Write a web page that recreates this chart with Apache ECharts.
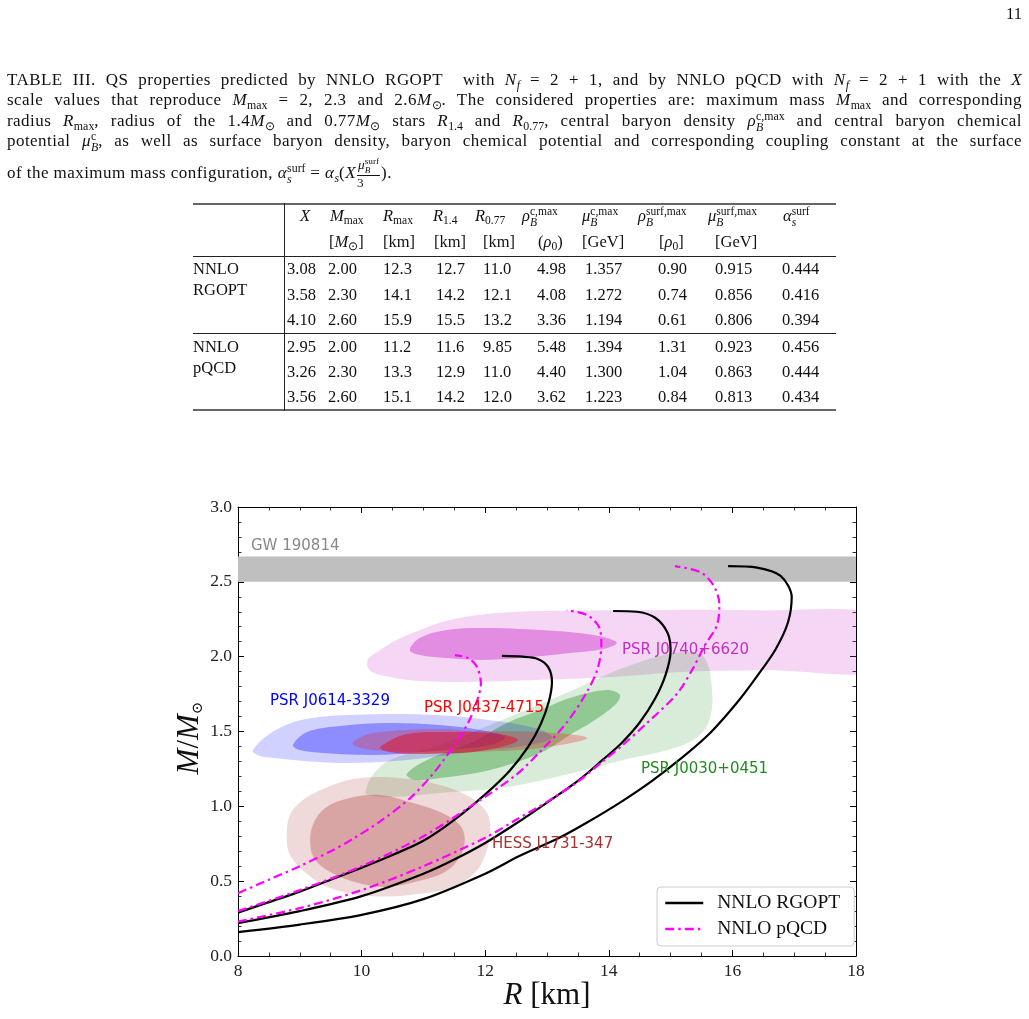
<!DOCTYPE html>
<html lang="en">
<head>
<meta charset="UTF-8">
<title>QS properties</title>
<script src="https://cdn.jsdelivr.net/npm/echarts@6/dist/echarts.min.js"></script>
<style>
  body { margin: 0; background: #fff; }
  #page { position: relative; width: 1029px; height: 1019px; overflow: hidden; font-family: "Liberation Serif", serif; color: #111; }
  #chart { position: absolute; left: 0; top: 0; width: 1029px; height: 1019px; z-index: 0; }
  .txt { position: absolute; z-index: 1; font-size: 16.5px; line-height: 20px; white-space: nowrap; }
  .cap { position: absolute; z-index: 1; left: 7px; width: 1015px; font-size: 17px; letter-spacing: 0.45px; line-height: 20px; text-align: justify; text-align-last: justify; }
  .cap.last { text-align-last: left; }
  sub, sup { font-size: 0.7em; line-height: 0; letter-spacing: 0; }
  sub { vertical-align: -0.3em; }
  .ss { display: inline-block; vertical-align: -0.42em; font-size: 0.7em; line-height: 0.95em; text-align: left; letter-spacing: 0; }
  .ss b { display: block; font-weight: normal; }
  .frac { display: inline-block; vertical-align: -0.62em; font-size: 0.78em; line-height: 1.05em; text-align: center; letter-spacing: 0; margin: 0 1px; }
  .frac b { display: block; font-weight: normal; }
  .frac b.num { border-bottom: 1px solid #111; padding: 0 1px; }
  .rule { position: absolute; z-index: 1; background: #222; }
</style>
</head>
<body>
<div id="page">
  <div id="chart"></div>

  <div class="txt" style="left:1006px;top:4px;">11</div>

  <div class="cap" style="top:70px;">TABLE III. QS properties predicted by NNLO RGOPT &nbsp;with <i>N<sub>f</sub></i> = 2 + 1, and by NNLO pQCD with <i>N<sub>f</sub></i> = 2 + 1 with the <i>X</i></div>
  <div class="cap" style="top:90px;">scale values that reproduce <i>M</i><sub>max</sub> = 2, 2.3 and 2.6<i>M</i><sub>⊙</sub>. The considered properties are: maximum mass <i>M</i><sub>max</sub> and corresponding</div>
  <div class="cap" style="top:111px;">radius <i>R</i><sub>max</sub>, radius of the 1.4<i>M</i><sub>⊙</sub> and 0.77<i>M</i><sub>⊙</sub> stars <i>R</i><sub>1.4</sub> and <i>R</i><sub>0.77</sub>, central baryon density <i>ρ</i><span class="ss"><b>c,max</b><b><i>B</i></b></span> and central baryon chemical</div>
  <div class="cap" style="top:131px;">potential <i>μ</i><span class="ss"><b>c</b><b><i>B</i></b></span>, as well as surface baryon density, baryon chemical potential and corresponding coupling constant at the surface</div>
  <div class="cap last" style="top:157px;">of the maximum mass configuration, <i>α</i><span class="ss"><b>surf</b><b><i>s</i></b></span> = <i>α<sub>s</sub></i>(<i>X</i><span class="frac"><b class="num"><i>μ</i><span class="ss"><b>surf</b><b><i>B</i></b></span></b><b>3</b></span>).</div>

  <div id="table"></div>
</div>

<script>
// ---- table data ----
var groupNames = [['NNLO', 'RGOPT'], ['NNLO', 'pQCD']];
var rgoptRows = [
  ['3.08', '2.00', '12.3', '12.7', '11.0', '4.98', '1.357', '0.90', '0.915', '0.444'],
  ['3.58', '2.30', '14.1', '14.2', '12.1', '4.08', '1.272', '0.74', '0.856', '0.416'],
  ['4.10', '2.60', '15.9', '15.5', '13.2', '3.36', '1.194', '0.61', '0.806', '0.394']
];
var pqcdRows = [
  ['2.95', '2.00', '11.2', '11.6', '9.85', '5.48', '1.394', '1.31', '0.923', '0.456'],
  ['3.26', '2.30', '13.3', '12.9', '11.0', '4.40', '1.300', '1.04', '0.863', '0.444'],
  ['3.56', '2.60', '15.1', '14.2', '12.0', '3.62', '1.223', '0.84', '0.813', '0.434']
];
var headNames = [
  '<i>X</i>', '<i>M</i><sub>max</sub>', '<i>R</i><sub>max</sub>', '<i>R</i><sub>1.4</sub>', '<i>R</i><sub>0.77</sub>',
  '<i>ρ</i><span class="ss"><b>c,max</b><b><i>B</i></b></span>',
  '<i>μ</i><span class="ss"><b>c,max</b><b><i>B</i></b></span>',
  '<i>ρ</i><span class="ss"><b>surf,max</b><b><i>B</i></b></span>',
  '<i>μ</i><span class="ss"><b>surf,max</b><b><i>B</i></b></span>',
  '<i>α</i><span class="ss"><b>surf</b><b><i>s</i></b></span>'
];
var headUnits = ['', '[<i>M</i><sub>⊙</sub>]', '[km]', '[km]', '[km]', '(<i>ρ</i><sub>0</sub>)', '[GeV]', '[<i>ρ</i><sub>0</sub>]', '[GeV]', ''];

// ---- figure data ----
var gwBand = [2.50, 2.67];
var xTicks = [8, 10, 12, 14, 16, 18];
var yTicks = [0.0, 0.5, 1.0, 1.5, 2.0, 2.5, 3.0];

var rgopt20 = [[8.0,0.29],[8.5,0.36],[9.0,0.43],[9.5,0.51],[10.0,0.59],[10.5,0.675],[11.0,0.77],[11.5,0.91],[12.0,1.08],[12.4,1.24],[12.7,1.40],[12.9,1.55],[13.03,1.70],[13.08,1.83],[13.02,1.93],[12.85,1.985],[12.6,2.0],[12.27,2.005]];
var rgopt23 = [[8.0,0.22],[9.0,0.30],[10.0,0.40],[11.0,0.55],[11.5,0.645],[12.0,0.755],[12.5,0.885],[13.0,1.025],[13.5,1.17],[13.9,1.31],[14.2,1.42],[14.5,1.56],[14.75,1.72],[14.92,1.88],[15.0,2.04],[14.95,2.16],[14.75,2.26],[14.45,2.30],[14.07,2.305]];
var rgopt26 = [[8.0,0.16],[9.0,0.21],[10.0,0.275],[11.0,0.38],[12.0,0.55],[12.56,0.67],[13.2,0.79],[13.64,0.89],[14.2,1.03],[14.7,1.17],[15.2,1.33],[15.64,1.49],[16.07,1.69],[16.4,1.87],[16.7,2.05],[16.9,2.23],[16.96,2.40],[16.78,2.54],[16.4,2.595],[15.93,2.605]];
var pqcd20 = [[8.0,0.42],[8.5,0.51],[9.0,0.60],[9.5,0.70],[9.85,0.78],[10.3,0.90],[10.8,1.06],[11.2,1.24],[11.55,1.44],[11.75,1.58],[11.88,1.72],[11.93,1.82],[11.87,1.93],[11.73,1.99],[11.51,2.01]];
var pqcd23 = [[8.0,0.30],[9.0,0.44],[10.0,0.60],[11.0,0.80],[11.8,1.01],[12.5,1.21],[12.9,1.37],[13.32,1.56],[13.64,1.76],[13.82,1.92],[13.88,2.08],[13.84,2.20],[13.64,2.28],[13.32,2.31]];
var pqcd26 = [[8.0,0.23],[9.0,0.32],[10.0,0.44],[11.0,0.60],[12.0,0.79],[12.5,0.91],[13.0,1.03],[13.5,1.165],[13.9,1.30],[14.2,1.40],[14.6,1.55],[15.1,1.75],[15.36,1.92],[15.56,2.08],[15.75,2.21],[15.79,2.35],[15.69,2.48],[15.48,2.565],[15.07,2.605]];

var j0740Outer = [[10.10,1.98],[10.29,2.04],[10.51,2.10],[10.83,2.16],[11.38,2.24],[11.92,2.28],[12.56,2.30],[14.18,2.31],[16.33,2.31],[18.6,2.26],[18.6,1.92],[16.45,1.91],[15.27,1.90],[13.86,1.86],[12.56,1.84],[11.62,1.83],[10.83,1.84],[10.39,1.87],[10.13,1.91]];
var j0740Inner = [[10.78,2.044],[10.94,2.125],[11.38,2.178],[11.92,2.191],[12.56,2.185],[13.37,2.165],[13.91,2.131],[14.13,2.091],[13.91,2.051],[13.37,2.024],[12.56,1.991],[11.92,1.978],[11.38,1.991],[10.94,2.011]];
var j0030Outer = [[10.06,1.096],[10.17,1.203],[10.46,1.310],[11.27,1.410],[12.35,1.590],[13.42,1.777],[14.23,1.924],[15.04,2.024],[15.48,2.018],[15.62,1.924],[15.67,1.777],[15.67,1.657],[15.57,1.523],[15.31,1.430],[14.83,1.363],[14.23,1.310],[13.42,1.223],[12.35,1.129],[11.27,1.089],[10.46,1.062],[10.10,1.076]];
var j0030Inner = [[10.73,1.216],[11.06,1.310],[11.80,1.430],[12.35,1.557],[12.89,1.644],[13.42,1.730],[13.97,1.777],[14.18,1.744],[14.10,1.677],[13.70,1.557],[13.42,1.490],[12.89,1.356],[12.08,1.243],[11.27,1.189],[10.86,1.176]];
var hessOuter = [[8.79,0.788],[8.84,0.942],[9.05,1.042],[9.49,1.136],[9.97,1.189],[10.62,1.189],[11.27,1.143],[11.75,1.062],[12.03,0.955],[12.08,0.822],[12.00,0.675],[11.83,0.555],[11.43,0.454],[10.78,0.408],[10.14,0.401],[9.49,0.454],[9.08,0.561],[8.84,0.675]];
var hessInner = [[9.17,0.742],[9.21,0.875],[9.41,0.989],[9.81,1.056],[10.30,1.076],[10.78,1.029],[11.27,0.962],[11.59,0.875],[11.67,0.775],[11.59,0.661],[11.35,0.561],[10.86,0.494],[10.38,0.461],[9.89,0.494],[9.49,0.561],[9.25,0.641]];
var j0614Outer = [[8.24,1.376],[8.57,1.50],[9.12,1.585],[10.18,1.615],[11.27,1.608],[12.24,1.566],[12.89,1.512],[13.08,1.457],[12.72,1.410],[11.75,1.363],[10.73,1.310],[9.65,1.290],[8.57,1.323],[8.31,1.343]];
var j0614Inner = [[8.89,1.410],[9.12,1.497],[9.65,1.537],[10.46,1.557],[11.27,1.543],[11.92,1.510],[12.32,1.463],[12.08,1.410],[10.99,1.363],[10.18,1.343],[9.38,1.356],[9.00,1.376]];
var j0437Outer = [[9.86,1.430],[10.18,1.490],[11.27,1.517],[11.80,1.503],[12.89,1.497],[13.65,1.457],[12.89,1.390],[11.80,1.363],[11.27,1.356],[10.18,1.376],[9.89,1.403]];
var j0437Inner = [[10.30,1.396],[10.73,1.483],[11.54,1.497],[11.80,1.497],[12.32,1.477],[12.53,1.443],[12.32,1.403],[11.80,1.363],[11.54,1.356],[10.73,1.350],[10.38,1.370]];

// ---- build the table ----
var tbl = document.getElementById('table');
var colX = [287, 328, 383, 436, 483, 537, 585, 658, 715, 782];
var headX = [300, 330, 383, 433, 475, 522, 582, 638, 708, 783];
var unitX = [0, 329, 383, 434, 483, 538, 582, 659, 715, 0];
var rowY = [269, 295, 320, 347, 372, 397];

function cell(html, x, y) {
  var d = document.createElement('div');
  d.className = 'txt';
  d.style.left = x + 'px';
  d.style.top = (y - 10) + 'px';
  d.innerHTML = html;
  tbl.appendChild(d);
}
function rule(x, y, w, h, col) {
  var d = document.createElement('div');
  d.className = 'rule';
  d.style.left = x + 'px'; d.style.top = y + 'px';
  d.style.width = w + 'px'; d.style.height = h + 'px';
  if (col) d.style.background = col;
  tbl.appendChild(d);
}
headNames.forEach(function (h, i) { cell(h, headX[i], 216); });
headUnits.forEach(function (h, i) { if (h) cell(h, unitX[i], 242); });
rgoptRows.concat(pqcdRows).forEach(function (row, r) {
  row.forEach(function (v, c) { cell(v, colX[c], rowY[r]); });
});
cell(groupNames[0][0], 193, 269); cell(groupNames[0][1], 193, 290);
cell(groupNames[1][0], 193, 347); cell(groupNames[1][1], 193, 368);
rule(193, 203, 643, 2, '#666');
rule(193, 256, 643, 1);
rule(193, 333, 643, 1);
rule(193, 409, 643, 2, '#666');
rule(284, 203, 1, 208);

// ---- chart ----
var chart = echarts.init(document.getElementById('chart'));
var serif = '"Liberation Serif", serif';
var sans = '"DejaVu Sans", sans-serif';

function blob(pts, color, extra) {
  var s = {
    type: 'custom',
    coordinateSystem: 'cartesian2d',
    clip: true,
    silent: true,
    data: [pts[0]],
    renderItem: function (params, api) {
      return {
        type: 'polygon',
        shape: { points: pts.map(function (p) { return api.coord(p); }), smooth: 0.35 },
        style: { fill: color }
      };
    }
  };
  return Object.assign(s, extra || {});
}
function curve(name, pts, color, dashed) {
  return {
    type: 'line', name: name, data: pts,
    symbol: 'none', showSymbol: false, smooth: 0.3, silent: true, z: 5,
    lineStyle: { color: color, width: 2.2, type: dashed ? [9, 4, 2.5, 4] : 'solid' },
    itemStyle: { color: color }
  };
}

var tickAxis = {
  type: 'value',
  axisLine: { show: true, onZero: false, lineStyle: { color: '#000', width: 1 } },
  axisTick: { show: true, inside: true, length: 6, lineStyle: { color: '#000', width: 1 } },
  splitLine: { show: false }
};
function axis(extra) { return Object.assign({}, JSON.parse(JSON.stringify(tickAxis)), extra); }

var option = {
  animation: false,
  grid: { left: 238, top: 507, width: 618, height: 449 },
  xAxis: [
    axis({ min: xTicks[0], max: xTicks[xTicks.length - 1], interval: 2, position: 'bottom',
      minorTick: { show: true, splitNumber: 4, length: 3.5, lineStyle: { color: '#000', width: 0.8 } },
      axisLabel: { color: '#222', fontFamily: serif, fontSize: 17.5, margin: 6 } }),
    axis({ min: xTicks[0], max: xTicks[xTicks.length - 1], interval: 2, position: 'top',
      minorTick: { show: true, splitNumber: 4, length: 3.5, lineStyle: { color: '#000', width: 0.8 } },
      axisLabel: { show: false } })
  ],
  yAxis: [
    axis({ min: yTicks[0], max: yTicks[yTicks.length - 1], interval: 0.5, position: 'left',
      minorTick: { show: true, splitNumber: 5, length: 3.5, lineStyle: { color: '#000', width: 0.8 } },
      axisLabel: { color: '#222', fontFamily: serif, fontSize: 17.5, margin: 6, formatter: function (v) { return v.toFixed(1); } } }),
    axis({ min: yTicks[0], max: yTicks[yTicks.length - 1], interval: 0.5, position: 'right',
      minorTick: { show: true, splitNumber: 5, length: 3.5, lineStyle: { color: '#000', width: 0.8 } },
      axisLabel: { show: false } })
  ],
  legend: {
    data: ['NNLO RGOPT', 'NNLO pQCD'],
    orient: 'vertical', left: 657, top: 887,
    padding: [6, 14, 7, 7], itemGap: 6, itemWidth: 38, itemHeight: 20,
    itemStyle: { opacity: 0 },
    lineStyle: { width: 2.5 },
    backgroundColor: '#fff', borderColor: '#ccc', borderWidth: 1, borderRadius: 4,
    textStyle: { fontFamily: serif, fontSize: 19.5, color: '#111', padding: [0, 0, 0, 9] }
  },
  graphic: [
    { type: 'text', x: 251, y: 546, style: { text: 'GW 190814', fill: '#888', font: '15px ' + sans, verticalAlign: 'middle' } },
    { type: 'text', x: 270, y: 701, style: { text: 'PSR J0614-3329', fill: '#0000ff', font: '15px ' + sans, verticalAlign: 'middle' } },
    { type: 'text', x: 424, y: 708, z: 10, style: { text: 'PSR J0437-4715', fill: '#ff0000', font: '15px ' + sans, verticalAlign: 'middle' } },
    { type: 'text', x: 622, y: 650, z: 10, style: { text: 'PSR J0740+6620', fill: '#c030c0', font: '15px ' + sans, verticalAlign: 'middle' } },
    { type: 'text', x: 641, y: 769, z: 10, style: { text: 'PSR J0030+0451', fill: '#228b22', font: '15px ' + sans, verticalAlign: 'middle' } },
    { type: 'text', x: 492, y: 844, z: 10, style: { text: 'HESS J1731-347', fill: '#a83232', font: '15px ' + sans, verticalAlign: 'middle' } },
    { type: 'text', x: 190, y: 738, rotation: Math.PI / 2,
      style: { text: '{i|M}{n|/}{i|M}{s|⊙}', align: 'center', verticalAlign: 'middle',
        rich: {
          i: { fontFamily: serif, fontStyle: 'italic', fontSize: 31, fill: '#111' },
          n: { fontFamily: serif, fontSize: 31, fill: '#111' },
          s: { fontFamily: '"DejaVu Serif", serif', fontSize: 15, fill: '#111', verticalAlign: 'bottom' }
        } } },
    { type: 'text', x: 547, y: 996,
      style: { text: '{i|R} [km]', align: 'center', verticalAlign: 'middle',
        rich: { i: { fontFamily: serif, fontStyle: 'italic', fontSize: 31, fill: '#111' } },
        font: '31px ' + serif, fill: '#111' } }
  ],
  series: [
    blob(j0740Outer, 'rgba(204,51,204,0.2)', {
      markArea: { silent: true, itemStyle: { color: '#bfbfbf' }, data: [[{ yAxis: gwBand[0] }, { yAxis: gwBand[1] }]] }
    }),
    blob(j0740Inner, 'rgba(204,51,204,0.45)'),
    blob(j0030Outer, 'rgba(0,128,0,0.15)'),
    blob(j0030Inner, 'rgba(0,128,0,0.33)'),
    blob(hessOuter, 'rgba(165,42,42,0.18)'),
    blob(hessInner, 'rgba(165,42,42,0.3)'),
    blob(j0614Outer, 'rgba(0,0,255,0.18)'),
    blob(j0614Inner, 'rgba(0,0,255,0.33)'),
    blob(j0437Outer, 'rgba(230,40,40,0.3)'),
    blob(j0437Inner, 'rgba(220,20,40,0.55)'),
    curve('NNLO RGOPT', rgopt20, '#000', false),
    curve('NNLO RGOPT', rgopt23, '#000', false),
    curve('NNLO RGOPT', rgopt26, '#000', false),
    curve('NNLO pQCD', pqcd20, '#ff00ff', true),
    curve('NNLO pQCD', pqcd23, '#ff00ff', true),
    curve('NNLO pQCD', pqcd26, '#ff00ff', true)
  ]
};
chart.setOption(option);
</script>
</body>
</html>
